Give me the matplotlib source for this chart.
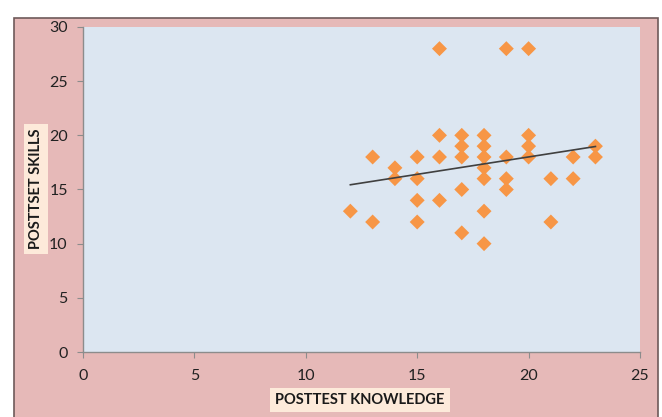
import numpy as np
import matplotlib
matplotlib.use("Agg")
import matplotlib.pyplot as plt
from matplotlib.patches import Rectangle

knowledge = [12, 13, 13, 14, 14, 15, 15, 15, 15, 16, 16, 16, 16,
             17, 17, 17, 17, 17, 18, 18, 18, 18, 18, 18, 18,
             19, 19, 19, 19, 20, 20, 20, 20, 21, 21, 22, 22, 23, 23]
skills = [13, 18, 12, 17, 16, 18, 16, 14, 12, 28, 20, 18, 14,
          20, 19, 18, 15, 11, 20, 19, 18, 17, 16, 13, 10,
          28, 18, 16, 15, 28, 20, 19, 18, 16, 12, 18, 16, 19, 18]
x_ticks = [0, 5, 10, 15, 20, 25]
y_ticks = [0, 5, 10, 15, 20, 25, 30]
x_label = "POSTTEST KNOWLEDGE"
y_label = "POSTTSET SKILLS"

plt.rcParams['font.family'] = ['Lato', 'DejaVu Sans']

fig = plt.figure(figsize=(6.62, 4.17), dpi=100)
fig.patch.set_facecolor('white')
W, H = 662, 417
fig.patches.append(Rectangle((14 / W, -0.01), (658 - 14) / W, (H - 18) / H + 0.01,
                             transform=fig.transFigure, facecolor='#E6B9B8',
                             edgecolor='#6E5A5A', linewidth=1.2, zorder=-10))

ax = fig.add_axes([83 / W, 1 - 352 / H, (640 - 83) / W, (352 - 27) / H])
ax.set_facecolor('#DCE6F1')
ax.scatter(knowledge, skills, marker='D', s=58, color='#F79646', edgecolors='none', zorder=3)

k = np.array(knowledge, dtype=float)
s = np.array(skills, dtype=float)
m, b = np.polyfit(k, s, 1)
xs = np.array([k.min(), k.max()])
ax.plot(xs, m * xs + b, color='#404040', linewidth=1.2, zorder=4)

ax.set_xlim(0, 25)
ax.set_ylim(0, 30)
ax.set_xticks(x_ticks)
ax.set_yticks(y_ticks)
for sp in ['top', 'right']:
    ax.spines[sp].set_visible(False)
for sp in ['left', 'bottom']:
    ax.spines[sp].set_color('#8C8C8C')
    ax.spines[sp].set_linewidth(1.0)
ax.tick_params(axis='both', direction='out', length=4, color='#8C8C8C',
               labelsize=11.5, labelcolor='#222222')
ax.tick_params(axis='x', pad=8)
ax.tick_params(axis='y', pad=7)

fig.text(360 / W, 1 - 400 / H, x_label, ha='center', va='center', fontsize=10.5,
         fontweight='bold', color='#1a1a1a',
         bbox=dict(boxstyle='square,pad=0.35', facecolor='#FDEADA', edgecolor='none'))
fig.text(36 / W, 1 - 189 / H, y_label, ha='center', va='center', rotation=90,
         fontsize=10.5, fontweight='bold', color='#1a1a1a',
         bbox=dict(boxstyle='square,pad=0.35', facecolor='#FDEADA', edgecolor='none'))

fig.savefig('out.png', dpi=100, facecolor=fig.get_facecolor())
